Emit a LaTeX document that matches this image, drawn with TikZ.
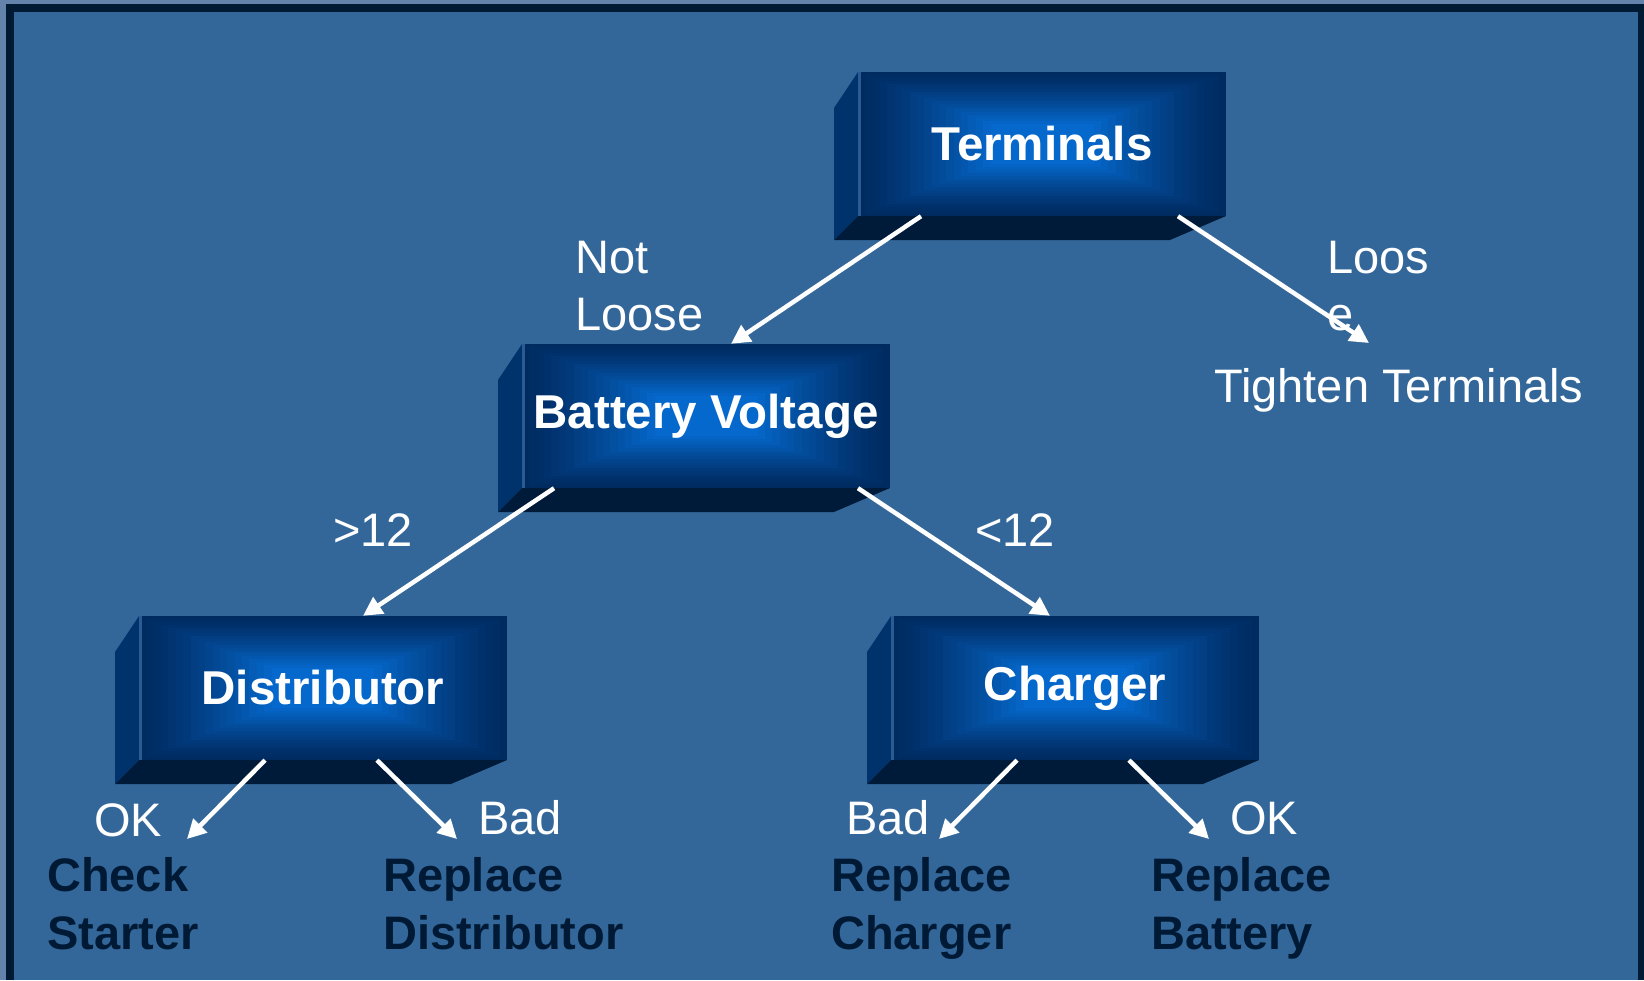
\documentclass[tikz,border=0pt]{standalone}
\usepackage{fontspec}
\setmainfont{Liberation Sans}
\usetikzlibrary{arrows.meta,calc}
\definecolor{bgc}{HTML}{346799}
\definecolor{outerc}{HTML}{6483AA}
\definecolor{framec}{HTML}{001A33}
\definecolor{sidec}{HTML}{00336B}
\definecolor{botc}{HTML}{001B3A}
\definecolor{edgec}{HTML}{2A5C94}
\definecolor{glowc}{HTML}{0568CC}
\definecolor{glowe}{HTML}{002B60}
\definecolor{darktext}{HTML}{001A35}
\tikzset{
  boxlabel/.style={text=white, font=\fontsize{47.5}{56}\selectfont\bfseries, inner sep=0pt,
    minimum width=368pt, minimum height=144pt, rectangle},
  wlabel/.style={text=white, font=\fontsize{47}{57}\selectfont, inner sep=0pt, anchor=base west, align=left},
  dlabel/.style={text=darktext, font=\fontsize{47}{58}\selectfont\bfseries, inner sep=0pt, anchor=base west, align=left},
  conn/.style={draw=white, line width=4.5pt, -{Triangle[length=19pt,width=19pt]}}
}
\newcommand\drawblock[4]{%
  \fill[sidec] (#2-24,#3+36) -- (#2,#3) -- (#2,#3+144) -- (#2-24,#3+168) -- cycle;
  \fill[botc] (#2,#3+144) -- (#2+368,#3+144) -- (#2+312,#3+168) -- (#2-24,#3+168) -- cycle;
  \foreach \k in {0,...,18}{%
    \pgfmathsetmacro\ins{\k*0.02}%
    \pgfmathsetmacro\pc{100*(\k/18)^1.25}%
    \fill[glowc!\pc!glowe] (#2+\ins*368,#3+\ins*144) rectangle (#2+368-\ins*368,#3+144-\ins*144);
  }
  \fill[edgec] (#2,#3) rectangle (#2+3,#3+144);
  \node[boxlabel] (#1) at (#2+184,#3+72) {#4};
}
\begin{document}
\begin{tikzpicture}[x=1pt,y=-1pt]
\useasboundingbox (0,0) rectangle (1644,980);
\fill[outerc] (0,0) rectangle (1644,980);
\fill[framec] (6,4) rectangle (1644,980);
\fill[bgc] (14,12) rectangle (1638,980);

\drawblock{term}{858}{72}{Terminals}
\drawblock{bv}{522}{344}{Battery Voltage}
\drawblock{dist}{139}{616}{Distributor}
\drawblock{chg}{891}{616}{Charger}

\coordinate (tipTT) at (1369,343);
\coordinate (tipCS) at (187,839);
\coordinate (tipRD) at (457,839);
\coordinate (tipRC) at (939,839);
\coordinate (tipRB) at (1209,839);

\draw[conn] ([xshift=-121pt]term.south) -- ([xshift=25pt]bv.north);
\draw[conn] ([xshift=136pt]term.south) -- (tipTT);
\draw[conn] ([xshift=-152pt]bv.south) -- ([xshift=40pt]dist.north);
\draw[conn] ([xshift=152pt]bv.south) -- ([xshift=-25pt]chg.north);
\draw[conn] ([xshift=-58pt]dist.south) -- (tipCS);
\draw[conn] ([xshift=54pt]dist.south) -- (tipRD);
\draw[conn] ([xshift=-58pt]chg.south) -- (tipRC);
\draw[conn] ([xshift=54pt]chg.south) -- (tipRB);

\node[wlabel] (notloose) at (575,330) {Not\\Loose};
\node[wlabel] (loose) at (1327,330) {Loos\\e};
\node[wlabel] (tighten) at (1214,402) {Tighten Terminals};
\node[wlabel] (gt) at (333,546) {>12};
\node[wlabel] (lt) at (975,546) {<12};
\node[wlabel] (ok1) at (94,836) {OK};
\node[wlabel] (bad1) at (478,834) {Bad};
\node[wlabel] (bad2) at (846,834) {Bad};
\node[wlabel] (ok2) at (1230,834) {OK};

\node[dlabel] (cs) at (47,949) {Check\\Starter};
\node[dlabel] (rd) at (383,949) {Replace\\Distributor};
\node[dlabel] (rc) at (831,949) {Replace\\Charger};
\node[dlabel] (rb) at (1151,949) {Replace\\Battery};
\end{tikzpicture}
\end{document}
